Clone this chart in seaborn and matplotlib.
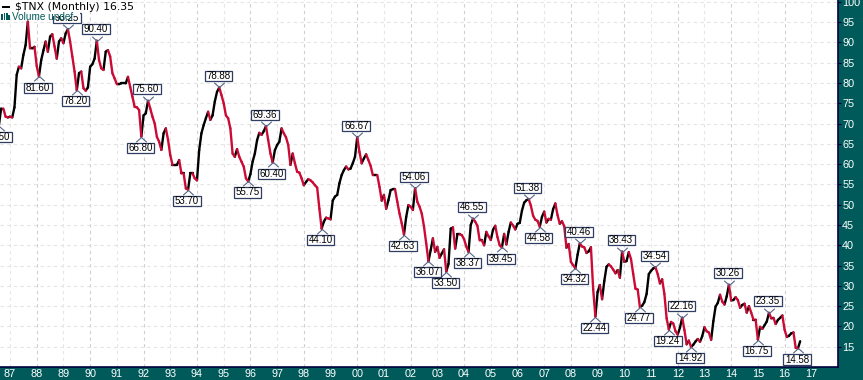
import numpy as np
import pandas as pd
import matplotlib
matplotlib.use("Agg")
import matplotlib.pyplot as plt
import matplotlib.path as mpath
from matplotlib.patches import Rectangle
import seaborn as sns

# monthly closes, Aug 1986 .. Aug 2016
close_86 = [69.5, 73.7, 73.7, 71.7, 71.5]
close_87_91 = [
    71.7, 71.5, 74, 82, 84, 83.6, 86.9, 89.3, 95.1, 88.5, 88.5, 88.9,
    84.2, 81.6, 85.6, 88, 90.2, 87.7, 91.4, 92, 89, 86, 90.2, 91,
    89.8, 92.2, 93.25, 90.2, 86.5, 82.8, 78.2, 82.4, 82.8, 78.7, 78.1, 78.9,
    84, 84.6, 86, 90.4, 85.6, 83.6, 83.2, 87.7, 88.1, 86.5, 82.4, 81.1,
    79.7, 79.7, 79.9, 79.9, 79.9, 81.5, 79, 76.6, 74.1, 74, 73.3, 66.8,
]
close_92_96 = [
    72, 72.5, 75.6, 73.7, 71.7, 70, 66.7, 65.5, 63.5, 67.6, 68.8, 66,
    62.2, 59.8, 59.8, 59.8, 61, 57.7, 57.7, 54, 53.7, 57.7, 57.7, 56.5,
    56, 63.5, 67.6, 69.6, 71.3, 72.9, 70.9, 72, 75.4, 77.8, 78.88, 77,
    75, 72, 71.3, 68.8, 62.6, 61.8, 63.7, 61.8, 60.6, 59.4, 56.5, 55.75,
    57.5, 60.6, 62.6, 65.9, 67.7, 67.2, 68.1, 69.36, 65.9, 62.6, 60.4, 63.4,
]
close_97_01 = [
    64.7, 65.5, 68.8, 67.6, 66.6, 64.7, 59.8, 62.6, 60.2, 58.1, 57.9, 56.5,
    54.8, 55.6, 56.3, 56, 55.5, 54.8, 54.2, 49, 44.1, 45.8, 46.8, 46.6,
    46.4, 51, 52, 52.4, 55.3, 57.3, 58.5, 59.4, 58.7, 58.9, 60.2, 61.8,
    66.67, 63, 60.2, 61.4, 62.4, 61, 59.6, 57.3, 57.3, 57.3, 54.4, 51,
    52.4, 49, 51.1, 53.6, 53.8, 53.8, 50.7, 47.8, 45.4, 42.63, 47, 49.9,
]
close_02_06 = [
    49.5, 48.7, 54.06, 50.7, 49.5, 47.8, 44.6, 40.4, 36.07, 38.8, 41.7, 38.4,
    39.6, 36.9, 38, 39, 33.5, 35.4, 44.1, 44.4, 39.2, 42.7, 42.7, 42.5,
    41.5, 39.7, 38.37, 45, 46.55, 45.8, 44.8, 41.2, 41.2, 40, 43.3, 42.2,
    41.3, 43.8, 44.8, 42, 40, 39.45, 42.8, 40.2, 43.3, 45.6, 44.9, 43.9,
    45.3, 45.5, 48.5, 50.5, 51.1, 51.38, 49.8, 47.3, 46.3, 46, 44.58, 47,
]
close_07_11 = [
    48.3, 45.6, 46.5, 46.3, 48.9, 50.3, 47.4, 45.3, 45.9, 44.7, 39.4, 40.3,
    35.9, 35.1, 34.32, 37.7, 40.46, 39.7, 39.5, 38.1, 38.5, 39.5, 29.2, 22.44,
    28.5, 30.2, 26.7, 31.2, 34.7, 35.3, 34.8, 34, 33.1, 33.9, 32, 38.43,
    35.9, 36.1, 38.3, 36.6, 32.9, 29.3, 29.1, 24.77, 25.1, 26, 28, 32.9,
    33.7, 34.3, 34.54, 32.9, 30.6, 31.6, 28, 22, 19.24, 21.1, 20.7, 18.8,
]
close_12_16 = [
    18, 19.7, 22.16, 19.1, 15.6, 16.5, 14.92, 15.5, 16.3, 16.9, 16.2, 17.6,
    19.8, 18.8, 18.5, 16.7, 21.3, 24.9, 25.8, 27.8, 26.1, 25.4, 27.4, 30.26,
    26.4, 26.5, 27.2, 26.5, 24.6, 25.3, 25.6, 23.4, 25, 23.4, 21.7, 21.7,
    16.75, 19.9, 19.4, 20.3, 21.2, 23.35, 22, 22.1, 20.6, 21.6, 22.1, 22.7,
    19.2, 17.4, 17.7, 18.3, 18.5, 14.7, 14.58, 16.35,
]

# labelled highs and lows
high_months = ["1989-03", "1990-04", "1992-03", "1994-11", "1996-08", "2000-01",
               "2002-03", "2004-05", "2006-06", "2008-05", "2009-12", "2011-03",
               "2012-03", "2013-12", "2015-06"]
low_months = ["1986-08", "1988-02", "1989-07", "1991-12", "1993-09", "1995-12",
              "1996-11", "1998-09", "2001-10", "2002-09", "2003-05", "2004-03",
              "2005-06", "2006-11", "2008-03", "2008-12", "2010-08", "2011-09",
              "2012-07", "2015-01", "2016-07"]

y_ticks = list(range(15, 105, 5))
x_years = list(range(1987, 2018))

TEAL = "#005a5a"
NAVY = "#00003c"
RED = "#cc0a35"
BOX = "#2f3d63"

values = close_86 + close_87_91 + close_92_96 + close_97_01 + close_02_06 + close_07_11 + close_12_16
dates = pd.date_range("1986-08-01", periods=len(values), freq="MS")
t = dates.year + (dates.month - 1) / 12
df = pd.DataFrame({"t": t, "v": values}, index=dates.strftime("%Y-%m"))

# one row pair per month step so that seaborn colours each step by direction
seg = pd.DataFrame({
    "t": np.column_stack([df.t.values[:-1], df.t.values[1:]]).ravel(),
    "v": np.column_stack([df.v.values[:-1], df.v.values[1:]]).ravel(),
    "unit": np.repeat(np.arange(len(df) - 1), 2),
})
seg["dir"] = np.repeat(np.where(np.diff(df.v.values) >= 0, "up", "down"), 2)

sns.set_style("white")
plt.rcParams["font.family"] = ["Liberation Sans", "DejaVu Sans"]

fig = plt.figure(figsize=(8.63, 3.80), dpi=100, facecolor=TEAL)
ax = fig.add_axes([0, 13 / 380, 838 / 863, 367 / 380], facecolor="white")

sns.lineplot(data=seg, x="t", y="v", hue="dir", units="unit", estimator=None, sort=False,
             palette={"up": "black", "down": RED}, linewidth=1.7, legend=False, ax=ax,
             solid_capstyle="round", zorder=3)

ax.set_xlim(1986.625, 2018.0)
ax.set_ylim(10, 100.44)
ax.set_xlabel("")
ax.set_ylabel("")
ax.set_xticks(x_years)
ax.set_xticklabels([f"{y % 100:02d}" for y in x_years])
ax.set_yticks(y_ticks)
ax.yaxis.tick_right()
ax.tick_params(axis="x", length=0, pad=1.2, labelsize=7.8, labelcolor="white")
ax.tick_params(axis="y", length=2, width=0.8, color=NAVY, pad=1, labelsize=7.8, labelcolor="white", right=True)

ax.yaxis.grid(True, ls=(0, (3, 3)), lw=0.8, color="#e4e4e4", zorder=0)
for y in x_years:
    ax.axvline(y, ls=(0, (3, 3)), lw=0.8, color="#cfcfcf" if y % 2 == 0 else "#e6e6e6", zorder=0)

for s in ["left", "top"]:
    ax.spines[s].set_visible(False)
for s in ["right", "bottom"]:
    ax.spines[s].set_color(NAVY)
    ax.spines[s].set_linewidth(1.2)

# little carets joining each point with its box
caret_up = mpath.Path([(-1, -0.9), (0, 0), (1, -0.9)])
caret_down = mpath.Path([(-1, 0.9), (0, 0), (1, 0.9)])


# text boxes are taller than the reference by default, so fix the height
def tight_box(x0, y0, w, h, mutation_size):
    cy = y0 + h / 2
    half = 0.52 * mutation_size
    pad = 0.16 * mutation_size
    return mpath.Path([(x0 - pad, cy - half), (x0 + w + pad, cy - half), (x0 + w + pad, cy + half),
                       (x0 - pad, cy + half), (x0 - pad, cy - half)], closed=True)


def add_labels(months, caret, dy):
    ax.plot(df.t[months], df.v[months], ls="", marker=caret, ms=7.6, mew=0.8,
            mec="#55658a", fillstyle="none", zorder=4)
    for m in months:
        ax.annotate(f"{df.v[m]:.2f}", (df.t[m], df.v[m]), xytext=(-0.7, dy),
                    textcoords="offset points", ha="center", va="center", fontsize=7,
                    color="black", annotation_clip=False, zorder=5,
                    bbox=dict(boxstyle=tight_box, fc="white", ec=BOX, lw=0.9))


add_labels(high_months, caret_down, 8.2)
add_labels(low_months, caret_up, -8.0)


# header sits on a white strip that hides whatever runs under it
def to_fig(x, y):
    return x / 863, 1 - y / 380


fig.add_artist(Rectangle(to_fig(0, 16), 80 / 863, 16 / 380, transform=fig.transFigure,
                         fc="white", ec="none", zorder=6))
fig.add_artist(Rectangle(to_fig(2, 7.8), 8 / 863, 1.6 / 380, transform=fig.transFigure,
                         fc="black", ec="none", zorder=7))
for bx, bh in [(1, 5), (3.5, 7), (6, 6), (8.3, 4)]:
    fig.add_artist(Rectangle(to_fig(bx, 19.5), 1.8 / 863, bh / 380, transform=fig.transFigure,
                             fc=TEAL, ec="none", zorder=7))
fx, fy = to_fig(15, 7)
fig.text(fx, fy, "$TNX (Monthly) 16.35", fontsize=7.85, family="DejaVu Sans", color="black",
         va="center", parse_math=False, zorder=8)
fx, fy = to_fig(12, 16.5)
fig.text(fx, fy, "Volume undef", fontsize=7.2, color=TEAL, va="center", zorder=8)

fig.savefig("out.png", dpi=100, facecolor=fig.get_facecolor())
